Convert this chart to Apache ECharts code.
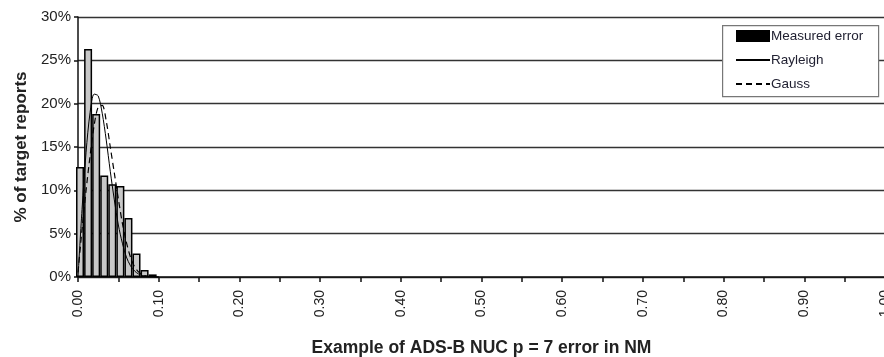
<!DOCTYPE html>
<html><head><meta charset="utf-8">
<script src="https://cdn.jsdelivr.net/npm/echarts@6/dist/echarts.min.js"></script>
<style>html,body{margin:0;padding:0;background:#fff}#c{width:884px;height:357px}</style>
</head><body><div id="c"></div>
<script>
// Measured error histogram (bin centre in NM, % of target reports)
var binCentres = [0.0025, 0.0125, 0.0225, 0.0325, 0.0425, 0.0525, 0.0625, 0.0725, 0.0825, 0.0925];
var measured   = [12.7, 26.3, 18.8, 11.7, 10.7, 10.5, 6.8, 2.7, 0.8, 0.3];
// Fitted curves, sampled every 0.005 NM
var curveX   = [0, 0.005, 0.01, 0.015, 0.02, 0.025, 0.03, 0.035, 0.04, 0.045, 0.05, 0.055, 0.06, 0.065, 0.07, 0.075, 0.08, 0.085, 0.09, 0.095, 0.1];
var rayleigh = [0, 7.8, 14.4, 19.0, 21.1, 20.9, 18.9, 15.8, 12.2, 8.9, 6.0, 3.9, 2.3, 1.3, 0.7, 0.35, 0.15, 0.05, 0.02, 0, 0];
var gauss    = [0.5, 5.5, 10.0, 14.0, 17.5, 19.6, 19.8, 18.0, 15.0, 12.0, 9.0, 6.2, 4.0, 2.3, 1.2, 0.6, 0.25, 0.1, 0.03, 0, 0];
var yTicks = [0, 5, 10, 15, 20, 25, 30];

var barData = binCentres.map(function (x, i) { return [x, measured[i]]; });
var rayData = curveX.map(function (x, i) { return [x, rayleigh[i]]; });
var gauData = curveX.map(function (x, i) { return [x, gauss[i]]; });

var chart = echarts.init(document.getElementById('c'));
var txt = '#222';
chart.setOption({
  animation: false,
  backgroundColor: '#fff',
  grid: { left: 78, top: 17, width: 807, height: 260, outerBoundsMode: 'none', containLabel: false },
  xAxis: {
    type: 'value', min: 0, max: 1, interval: 0.05,
    name: 'Example of ADS-B NUC p = 7 error in NM',
    nameLocation: 'middle', nameGap: 62,
    nameTextStyle: { fontFamily: 'Liberation Sans, Arial', fontWeight: 'bold', fontSize: 17.5, color: txt },
    axisLine: { lineStyle: { color: '#111', width: 1.5 } },
    axisTick: { show: true, inside: false, length: 5, lineStyle: { color: '#111', width: 1.5 } },
    axisLabel: {
      rotate: 90, margin: 13, fontSize: 14, color: txt, fontFamily: 'Liberation Sans, Arial',
      formatter: function (v) { return Math.round(v * 100) % 10 === 0 ? v.toFixed(2) : ''; }
    },
    splitLine: { show: false }
  },
  yAxis: {
    type: 'value', min: yTicks[0], max: yTicks[yTicks.length - 1], interval: 5,
    name: '% of target reports', nameLocation: 'middle', nameGap: 48,
    nameTextStyle: { fontFamily: 'Liberation Sans, Arial', fontWeight: 'bold', fontSize: 17, color: txt },
    axisLine: { show: true, lineStyle: { color: '#111', width: 1.5 } },
    axisTick: { show: true, inside: false, length: 4, lineStyle: { color: '#111', width: 1.5 } },
    axisLabel: { formatter: '{value}%', margin: 7, fontSize: 15, color: txt, fontFamily: 'Liberation Sans, Arial' },
    splitLine: { show: true, lineStyle: { color: '#333', width: 1.3 } }
  },
  graphic: [{
    type: 'rect', left: 722, top: 25, z: 50,
    shape: { width: 156, height: 71 },
    style: { fill: '#fff', stroke: '#777', lineWidth: 1.2 }
  }],
  legend: {
    orient: 'vertical', left: 735, top: 29, z: 60, padding: 0,
    itemWidth: 34, itemHeight: 12, itemGap: 10,
    textStyle: { fontFamily: 'Liberation Sans Narrow, Liberation Sans, Arial', fontSize: 13.5, color: '#223', padding: [0, 0, 0, -4] },
    data: [
      { name: 'Measured error', icon: 'rect', itemStyle: { color: '#000', borderWidth: 0 } },
      { name: 'Rayleigh', itemStyle: { color: 'rgba(0,0,0,0)', borderWidth: 0, opacity: 0 } },
      { name: 'Gauss', itemStyle: { color: 'rgba(0,0,0,0)', borderWidth: 0, opacity: 0 } }
    ]
  },
  series: [
    {
      name: 'Measured error', type: 'bar', data: barData, barWidth: 8,
      itemStyle: { color: '#c8c8c8', borderColor: '#000', borderWidth: 1.5 }, z: 2
    },
    {
      name: 'Rayleigh', type: 'line', data: rayData, symbol: 'none', smooth: 0.3,
      lineStyle: { color: '#000', width: 1 }, itemStyle: { color: '#000' }, z: 3
    },
    {
      name: 'Gauss', type: 'line', data: gauData, symbol: 'none', smooth: 0.3,
      lineStyle: { color: '#000', width: 1.2, type: [6, 4] }, itemStyle: { color: '#000' }, z: 3
    }
  ]
});
</script></body></html>
